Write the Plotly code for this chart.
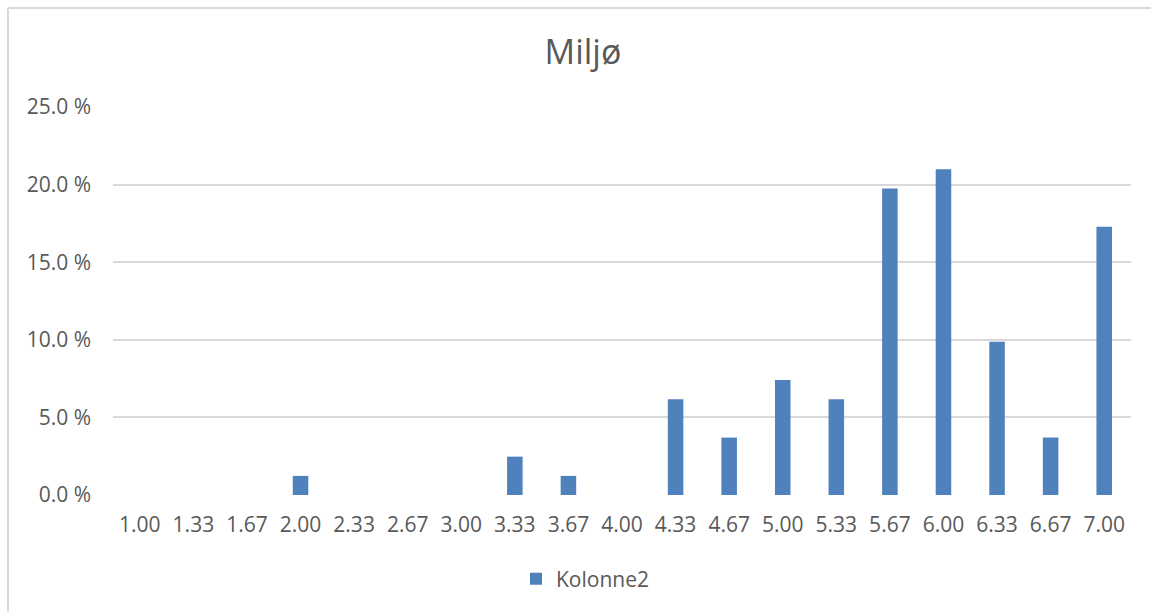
import plotly.graph_objects as go

categories = ["1.00", "1.33", "1.67", "2.00", "2.33", "2.67", "3.00", "3.33", "3.67",
              "4.00", "4.33", "4.67", "5.00", "5.33", "5.67", "6.00", "6.33", "6.67", "7.00"]
values = [0.0, 0.0, 0.0, 0.0123, 0.0, 0.0, 0.0, 0.0247, 0.0123,
          0.0, 0.0617, 0.0370, 0.0741, 0.0617, 0.1975, 0.2099, 0.0988, 0.0370, 0.1728]
y_ticks = [0, 0.05, 0.10, 0.15, 0.20, 0.25]
y_tick_labels = ["0.0 %", "5.0 %", "10.0 %", "15.0 %", "20.0 %", "25.0 %"]
series_name = "Kolonne2"
title_text = "Miljø"

FONT = "Open Sans"
TXT = "#595959"
GRID = "#D9D9D9"
BAR = "#4F81BD"

fig = go.Figure()
fig.add_trace(go.Bar(x=categories, y=values, name=series_name,
                     marker=dict(color=BAR, line=dict(width=0)), width=0.29))

fig.update_layout(
    width=1151, height=612,
    margin=dict(l=113, r=20, t=107, b=117),
    paper_bgcolor="white", plot_bgcolor="white",
    font=dict(family=FONT, size=21, color=TXT),
    title=dict(text=title_text, x=583 / 1151, xanchor="center", y=1 - 52 / 612, yanchor="middle",
               font=dict(family=FONT, size=34, color=TXT)),
    showlegend=True,
    legend=dict(orientation="h", x=(516 - 113) / 1018, xanchor="left", y=-0.2165, yanchor="middle",
                font=dict(family=FONT, size=21, color=TXT), bgcolor="rgba(0,0,0,0)"),
)
fig.update_xaxes(type="category", showgrid=False, zeroline=False, showline=False,
                 ticks="", ticklabelstandoff=15, tickfont=dict(family=FONT, size=21, color=TXT))
fig.update_yaxes(range=[0, 0.25], tickvals=y_ticks, ticktext=y_tick_labels,
                 showgrid=True, gridcolor=GRID, gridwidth=1.6, zeroline=False, showline=False,
                 ticks="", ticklabelstandoff=21, tickfont=dict(family=FONT, size=21, color=TXT))

# outer chart border (left and top edges visible in the reference)
bx = (8 - 113) / 1018
by = (495 - 8) / 388
fig.add_shape(type="line", xref="paper", yref="paper", x0=bx, x1=bx, y0=-1, y1=by,
              line=dict(color=GRID, width=2))
fig.add_shape(type="line", xref="paper", yref="paper", x0=bx, x1=1.2, y0=by, y1=by,
              line=dict(color=GRID, width=2))

fig.write_html("out.html")
